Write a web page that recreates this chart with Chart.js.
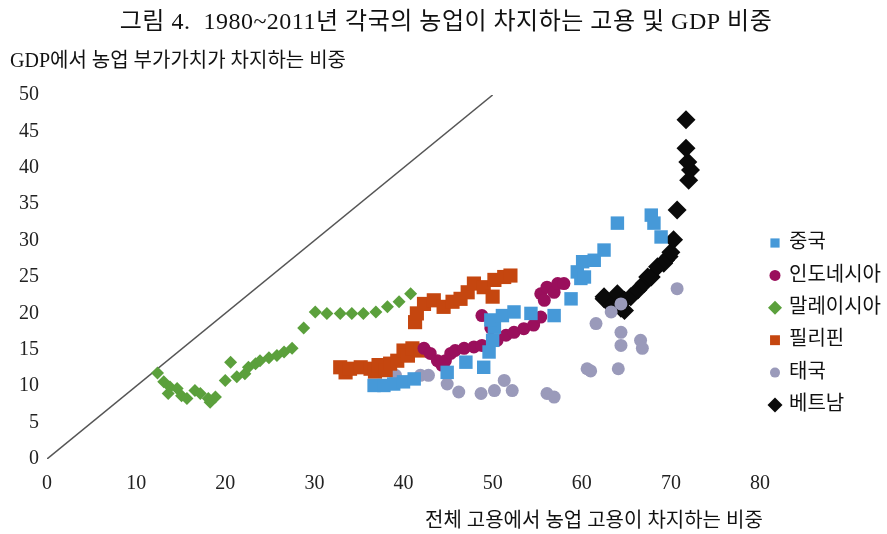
<!DOCTYPE html>
<html lang="ko">
<head>
<meta charset="utf-8">
<script src="https://cdn.jsdelivr.net/npm/chart.js@4/dist/chart.umd.min.js"></script>
<style>
  html, body { margin: 0; padding: 0; background: #fff; }
  #wrap { width: 887px; height: 534px; position: relative; }
</style>
</head>
<body>
<div id="wrap"><canvas id="grafico"></canvas></div>
<script>
// Textos
const titulo = '그림 4.  1980~2011년 각국의 농업이 차지하는 고용 및 GDP 비중';
const tituloY = 'GDP에서 농업 부가가치가 차지하는 비중';
const tituloX = '전체 고용에서 농업 고용이 차지하는 비중';

// Ejes
const xTicks = [0, 10, 20, 30, 40, 50, 60, 70, 80];
const yTicks = [0, 5, 10, 15, 20, 25, 30, 35, 40, 45, 50];

// Series (x = 농업 고용 비중, y = 농업 부가가치 비중)
const paises = ['중국', '인도네시아', '말레이시아', '필리핀', '태국', '베트남'];

const china = [
  [36.7,10.1],[37.8,10.1],[38.9,10.3],[40.0,10.6],[41.2,11.0],[44.9,11.9],[47.0,13.3],
  [49.0,12.6],[49.6,14.7],[50.0,16.3],[50.2,18.1],[49.8,19.1],[51.1,19.7],[52.4,20.2],
  [54.3,20.0],[56.9,19.7],[58.8,22.0],[59.9,24.8],[59.5,25.7],[60.1,27.1],[60.3,25.0],
  [61.4,27.3],[62.5,28.7],[64.0,32.4],[67.8,33.5],[68.1,32.4],[68.9,30.5]
];
const indonesia = [
  [42.3,15.2],[43.0,14.5],[43.8,13.5],[44.3,12.9],[44.7,13.5],[45.3,14.5],[45.8,14.9],
  [46.8,15.2],[47.9,15.4],[48.8,15.6],[48.8,19.7],[49.8,18.0],[50.5,16.3],[51.5,17.0],
  [52.4,17.4],[53.5,17.9],[54.6,18.4],[55.4,19.5],[55.4,22.7],[55.8,21.8],[56.1,23.6],
  [56.9,22.9],[57.3,24.1],[58.0,24.1]
];
const malasia = [
  [12.4,11.8],[13.1,10.6],[13.6,9.0],[13.8,9.9],[14.6,9.7],[15.1,8.7],[15.7,8.3],
  [16.6,9.4],[17.2,9.0],[18.1,8.3],[18.3,7.8],[18.9,8.5],[20.0,10.8],[20.6,13.3],
  [21.3,11.3],[22.2,11.7],[22.6,12.6],[23.4,13.1],[23.9,13.5],[24.9,13.9],[25.8,14.2],
  [26.6,14.7],[27.5,15.2],[28.8,18.0],[30.1,20.2],[31.4,20.0],[32.9,20.0],[34.2,20.0],
  [35.5,20.0],[36.9,20.2],[38.2,20.9],[39.5,21.6],[40.8,22.7]
];
const filipinas = [
  [32.9,12.6],[33.5,11.9],[34.0,12.4],[35.2,12.6],[36.3,12.4],[36.8,12.0],[37.2,12.9],
  [38.0,12.2],[38.5,13.1],[39.3,13.5],[40.0,14.9],[40.5,14.2],[41.0,15.2],[41.9,14.9],
  [41.3,18.8],[41.5,20.0],[42.3,21.3],[43.4,21.8],[44.5,20.9],[45.5,21.6],[46.4,22.0],
  [47.2,22.9],[47.9,24.1],[49.0,23.6],[50.0,22.3],[50.2,24.6],[51.3,25.0],[52.0,25.2]
];
const tailandia = [
  [38.5,12.4],[39.1,11.5],[41.9,11.5],[42.8,11.5],[44.9,10.3],[46.2,9.2],[48.7,9.0],
  [50.2,9.4],[51.3,10.8],[52.2,9.4],[56.1,9.0],[56.9,8.5],[60.6,12.4],[61.0,12.1],
  [61.6,18.6],[63.3,20.2],[64.4,21.3],[64.4,17.4],[64.4,15.6],[66.6,16.3],[66.8,15.2],
  [64.1,12.4],[70.7,23.4]
];
const vietnam = [
  [62.5,22.0],[62.5,22.3],[63.3,21.1],[64.0,22.7],[64.4,20.7],[64.8,20.4],[64.8,21.8],
  [65.5,22.3],[66.3,23.2],[67.0,24.1],[67.4,25.0],[67.8,25.0],[68.5,26.4],[69.2,26.9],
  [69.4,27.3],[69.8,27.8],[70.0,28.4],[70.3,30.1],[70.7,34.2],[72.0,38.3],[72.2,39.7],
  [71.9,40.8],[71.7,42.7],[71.7,46.6]
];

// Línea de 45 grados
const diagonal = [[0, 0], [50, 50]];

const aPuntos = arr => arr.map(p => ({ x: p[0], y: p[1] }));

// estilo: [color, pointStyle, radio en gráfico, radio en leyenda]
const estilos = [
  ['#4699d8', 'rect', 9.5, 6.5],
  ['#9a0f5c', 'circle', 6.5, 5.5],
  ['#5ba03c', 'rectRot', 6.5, 7],
  ['#c5460f', 'rect', 10, 7],
  ['#9a9aba', 'circle', 6.5, 5],
  ['#0a0a0a', 'rectRot', 9.5, 7.5]
];
const series = [china, indonesia, malasia, filipinas, tailandia, vietnam];

const datasets = series.map((s, i) => ({
  label: paises[i],
  data: aPuntos(s),
  pointStyle: estilos[i][1],
  pointRadius: estilos[i][2],
  pointHoverRadius: estilos[i][2],
  backgroundColor: estilos[i][0],
  borderColor: estilos[i][0],
  borderWidth: 0,
  showLine: false,
  legendRadius: estilos[i][3]
}));

datasets.push({
  label: '',
  type: 'line',
  data: aPuntos(diagonal),
  borderColor: '#555',
  borderWidth: 1.5,
  pointRadius: 0,
  fill: false
});

const FUENTE = '"Liberation Serif", "Noto Sans CJK KR", serif';

// Títulos y leyenda dibujados a mano
const textos = {
  id: 'textos',
  afterDraw(chart) {
    const ctx = chart.ctx;
    ctx.save();
    ctx.fillStyle = '#111';
    ctx.textBaseline = 'middle';

    ctx.font = '24px ' + FUENTE;
    ctx.letterSpacing = '0.5px';
    ctx.textAlign = 'center';
    ctx.fillText(titulo, 446, 23);
    ctx.letterSpacing = '0px';

    ctx.font = '20px ' + FUENTE;
    ctx.textAlign = 'left';
    ctx.fillText(tituloY, 10, 62);
    ctx.fillText(tituloX, 425, 522);

    // Leyenda
    chart.data.datasets.forEach((ds, i) => {
      if (!ds.label) return;
      const y = 243 + i * 32.4;
      ctx.fillStyle = ds.backgroundColor;
      Chart.helpers.drawPoint(ctx, { pointStyle: ds.pointStyle, radius: ds.legendRadius, borderWidth: 0, rotation: 0 }, 775, y);
      ctx.fillStyle = '#111';
      ctx.font = '20px ' + FUENTE;
      ctx.fillText(ds.label, 789, y);
    });
    ctx.restore();
  }
};

new Chart(document.getElementById('grafico'), {
  type: 'scatter',
  data: { datasets: datasets },
  options: {
    responsive: true,
    maintainAspectRatio: false,
    animation: false,
    layout: { padding: { top: 95, right: 127, bottom: 0, left: 0 } },
    plugins: {
      legend: { display: false },
      title: { display: false },
      tooltip: { enabled: false }
    },
    scales: {
      x: {
        type: 'linear',
        min: xTicks[0],
        max: xTicks[xTicks.length - 1],
        afterBuildTicks: s => { s.ticks = xTicks.map(v => ({ value: v })); },
        afterFit: s => { s.height = 75; },
        grid: { display: false, drawTicks: false },
        border: { display: false },
        ticks: { color: '#222', padding: 13, font: { family: FUENTE, size: 20 } }
      },
      y: {
        type: 'linear',
        min: yTicks[0],
        max: yTicks[yTicks.length - 1],
        afterBuildTicks: s => { s.ticks = yTicks.map(v => ({ value: v })); },
        afterFit: s => { s.width = 47; },
        grid: { display: false, drawTicks: false },
        border: { display: false },
        ticks: { color: '#222', padding: 8, font: { family: FUENTE, size: 20 } }
      }
    }
  },
  plugins: [textos]
});
</script>
</body>
</html>
